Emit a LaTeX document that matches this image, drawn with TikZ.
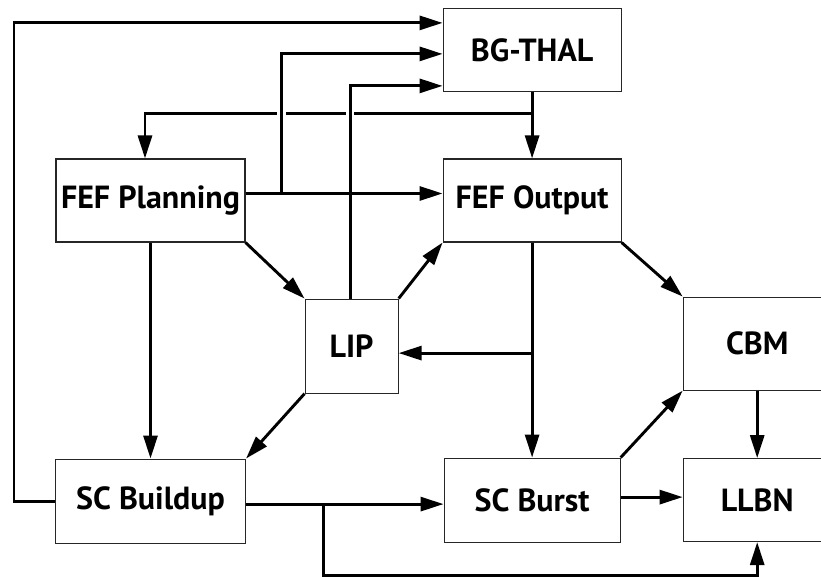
\documentclass[tikz,border=0pt]{standalone}
\usepackage{fontspec}
\setmainfont{PT Sans}
\usepackage{tikz}
\usetikzlibrary{arrows.meta, positioning, calc}

\begin{document}
\begin{tikzpicture}[x=1pt, y=1pt, >={Triangle[length=23pt,width=14pt]}]

        % Estilos dos blocos e das setas
        \tikzstyle{block} = [rectangle, draw=black!85, line width=1.1pt, inner sep=0pt, minimum width=189pt, minimum height=83pt, font=\bfseries\fontsize{32}{36}\selectfont]
        \tikzstyle{arr} = [->, line width=2.9pt]
        \tikzstyle{hop} = [white, line width=4pt]

        \useasboundingbox (0,0) rectangle (821,576);

        % Blocos
        \node [block] (fefplan) at (150.5,375.5) {FEF Planning};
        \node [block, right=197pt of fefplan, minimum width=178pt] (fefout) {FEF Output};
        \node [block, above=66pt of fefout, minimum width=178pt] (bgthal) {BG-THAL};
        \node [block, below right=56pt and 59pt of fefplan, minimum width=93pt, minimum height=94pt] (lip) {LIP};
        \node [block, below right=54pt and 61pt of fefout, minimum width=148pt, minimum height=93pt] (cbm) {CBM};
        \node [block, below=216pt of fefplan, minimum width=190pt, minimum height=84pt] (scbuild) {SC Buildup};
        \node [block, below=215pt of fefout, minimum width=176pt, minimum height=84pt] (scburst) {SC Burst};
        \node [block, right=62pt of scburst, minimum width=148pt] (llbn) {LLBN};

        % ---------------------------------------------------------
        % Ligações
        % ---------------------------------------------------------

        % 1. Retorno do BG-THAL para FEF Planning
        \draw [arr] (bgthal) -- (fefout);
        \coordinate (bj) at ($(bgthal.south)+(0,-21)$);
        \draw [arr] (bj) -| ($(fefplan.north)+(-5.5,0)$);

        % 2. Entradas do BG-THAL
        \coordinate (pe) at ($(fefplan.east)+(0,7)$);
        \coordinate (pj) at ($(pe)+(36,0)$);
        \coordinate (lj) at ($(lip.north)+(-1.5,0)$);
        \draw [hop] ($(bj -| pj)+(-5,0)$) -- ($(bj -| pj)+(4,0)$);
        \draw [hop] ($(bj -| lj)+(-4,0)$) -- ($(bj -| lj)+(4,0)$);
        \draw [arr] (scbuild.west) -- ++(-41,0) |- ($(bgthal.west)+(0,27.5)$);
        \draw [arr] (pj) |- ($(bgthal.west)+(0,-3.5)$);
        \draw [arr] (lj) |- ($(bgthal.west)+(0,-35.5)$);

        % 3. FEF
        \draw [arr] (pe) -- (pe -| fefout.west);
        \draw [arr] (fefplan) -- (scbuild);
        \draw [arr] (fefplan.south east) -- (lip.north west);
        \draw [arr] (lip.north east) -- (fefout.south west);
        \draw [arr] (fefout) -- (scburst);
        \coordinate (le) at ($(lip.east)+(0,-7)$);
        \draw [arr] (le -| fefout.south) -- (le);
        \draw [arr] (fefout.south east) -- (cbm.north west);

        % 4. SC, CBM e LLBN
        \draw [arr] (lip.south west) -- (scbuild.north east);
        \draw [arr] (scburst.north east) -- (cbm.south west);
        \draw [arr] (cbm) -- (llbn);
        \coordinate (be) at ($(scbuild.east)+(0,-3)$);
        \draw [arr] (be) -- (be -| scburst.west);
        \draw [arr] ($(be)+(77,0)$) -- ++(0,-71) -| (llbn.south);
        \coordinate (se) at ($(scburst.east)+(0,3)$);
        \draw [arr] (se) -- (se -| llbn.west);
    \end{tikzpicture}
\end{document}
